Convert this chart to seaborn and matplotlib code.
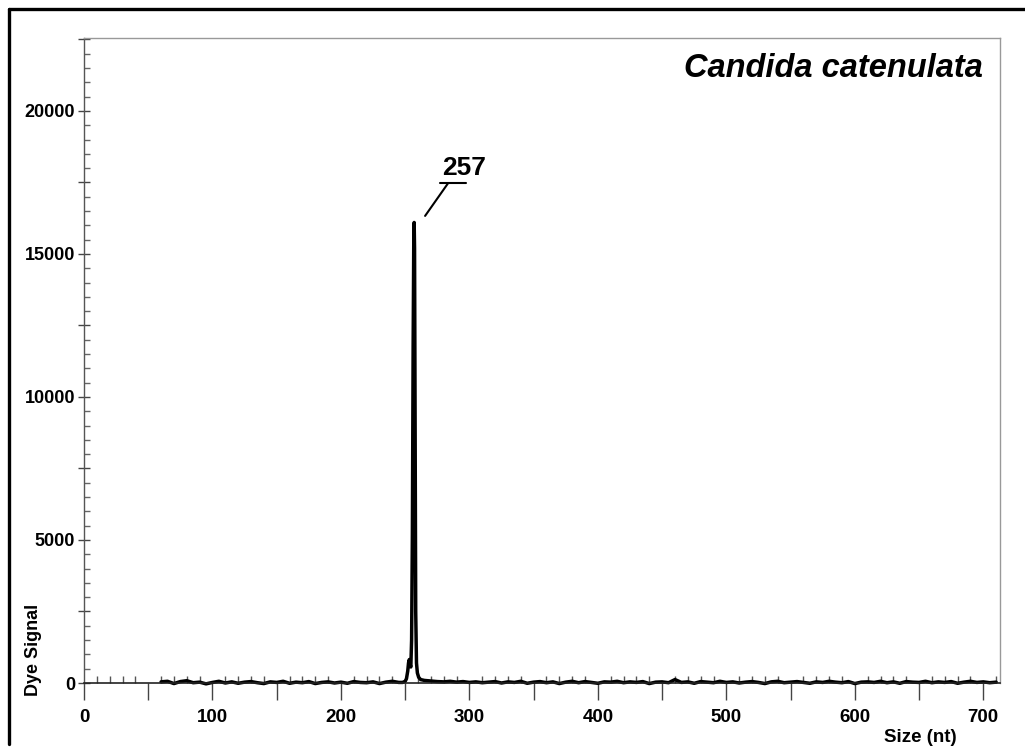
import numpy as np
import pandas as pd
import matplotlib
matplotlib.use("Agg")
import matplotlib.pyplot as plt
from matplotlib.ticker import MultipleLocator, FuncFormatter
from matplotlib.lines import Line2D
import seaborn as sns

# ---------------- data ----------------
title = "Candida catenulata"
peak_label = "257"
x_label = "Size (nt)"
y_label = "Dye Signal"

left_sizes = np.arange(60, 246, 5)
left_signal = [40, 60, -20, 50, 80, 10, 30, -30, 20, 60,
               0, 40, -10, 30, 50, 10, -20, 40, 20, 60,
               -10, 30, 10, 50, -20, 20, 40, 0, 30, -10,
               50, 20, 10, 40, -20, 30, 60, 20]

peak_sizes = [248, 250, 251, 252, 252.6, 253.2, 253.8, 254.4, 255, 255.6,
              256.2, 256.7, 257.0, 257.3, 257.7, 258.2, 258.8, 259.5, 260.5, 262]
peak_signal = [20, 60, 150, 420, 700, 820, 650, 560, 1500, 5200,
               11800, 15600, 16100, 15200, 9000, 2500, 700, 350, 200, 120]

right_sizes = np.arange(265, 711, 5)
right_signal = [90, 70, 50, 40, 60, 30, 50, 20, 40, 10,
                30, 50, 0, 40, 20, 60, -10, 30, 50, 10,
                40, -20, 30, 60, 10, 50, 20, -10, 40, 30,
                60, 10, 40, 20, 50, -20, 30, 40, 10, 120,
                20, 40, -10, 50, 30, 10, 60, 20, 40, 0,
                30, 50, 20, -20, 40, 60, 10, 30, 50, 20,
                -10, 40, 20, 60, 30, 10, 50, -20, 30, 40,
                20, 60, 10, 40, -10, 50, 30, 20, 60, 10,
                40, 20, 50, -10, 30, 60, 20, 40, 10, 30]

df = pd.DataFrame({
    "size": np.concatenate([left_sizes, peak_sizes, right_sizes]),
    "signal": np.concatenate([left_signal, peak_signal, right_signal]),
})

# ---------------- style ----------------
sns.set_style("white")
plt.rcParams["font.family"] = ["Liberation Sans", "DejaVu Sans"]
plt.rcParams["text.color"] = "black"
plt.rcParams["xtick.labelcolor"] = "black"
plt.rcParams["ytick.labelcolor"] = "black"

fig = plt.figure(figsize=(10.25, 7.49), dpi=100)
ax = fig.add_axes([84 / 1025, 1 - 683 / 749, (1000 - 84) / 1025, (683 - 38) / 749])

sns.lineplot(data=df, x="size", y="signal", ax=ax, color="black", lw=2.5,
             estimator=None, sort=True, clip_on=False)

ax.set_xlim(0, 713)
ax.set_ylim(0, 22550)

ax.xaxis.set_major_locator(MultipleLocator(50))
ax.xaxis.set_minor_locator(MultipleLocator(10))
ax.yaxis.set_major_locator(MultipleLocator(2500))
ax.yaxis.set_minor_locator(MultipleLocator(500))
ax.xaxis.set_major_formatter(FuncFormatter(lambda v, p: f"{int(round(v))}" if round(v) % 100 == 0 else ""))
ax.yaxis.set_major_formatter(FuncFormatter(lambda v, p: f"{int(round(v))}" if round(v) % 5000 == 0 else ""))

ax.tick_params(axis="x", which="major", direction="out", length=12, width=1, color="#444444",
               labelsize=13.5, pad=7, bottom=True)
ax.tick_params(axis="x", which="minor", direction="in", length=5, width=1, color="#555555", bottom=True)
ax.tick_params(axis="y", which="major", direction="inout", length=9, width=1, color="#444444",
               labelsize=13, pad=2, left=True)
ax.tick_params(axis="y", which="minor", direction="in", length=4, width=1, color="#666666", left=True)
for lab in ax.get_xticklabels() + ax.get_yticklabels():
    lab.set_fontweight("bold")
    lab.set_color("black")

ax.spines["left"].set_color("#555555")
ax.spines["left"].set_linewidth(1.0)
ax.spines["bottom"].set_color("#222222")
ax.spines["bottom"].set_linewidth(1.2)
ax.spines["top"].set_color("#999999")
ax.spines["right"].set_color("#999999")
ax.spines["top"].set_linewidth(1.0)
ax.spines["right"].set_linewidth(1.0)
ax.set_xlabel("")
ax.set_ylabel("")

# title and peak annotation
ax.text(0.981, 0.953, title, transform=ax.transAxes, ha="right", va="center",
        fontsize=23.5, fontweight="bold", fontstyle="italic", color="black")
ax.text(296, 17750, peak_label, ha="center", va="baseline", fontsize=19, fontweight="bold", color="black")
ax.plot([277, 297], [17480, 17480], color="black", lw=1.5)
ax.plot([283.5, 265.5], [17480, 16330], color="black", lw=1.5)

# axis labels
fig.text(920 / 1025, 1 - 737 / 749, x_label, ha="center", va="center", fontsize=13.5,
         fontweight="bold", color="black")
fig.text(33 / 1025, 1 - 650 / 749, y_label, ha="center", va="center", rotation=90,
         fontsize=13, fontweight="bold", color="black")

# figure frame
fig.add_artist(Line2D([9 / 1025, 9 / 1025], [1 - 9 / 749, 1 - 744 / 749], transform=fig.transFigure,
                      color="black", lw=2.4))
fig.add_artist(Line2D([9 / 1025, 1.0], [1 - 9 / 749, 1 - 9 / 749], transform=fig.transFigure,
                      color="black", lw=2.4))

fig.savefig("out.png", dpi=100)
